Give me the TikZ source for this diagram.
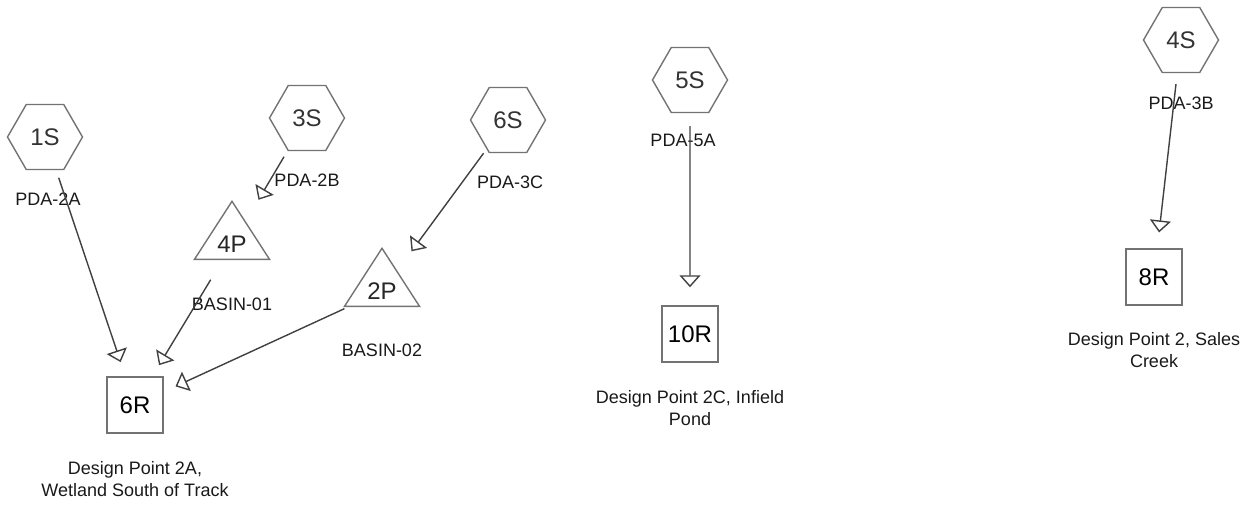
\documentclass[tikz,border=0pt]{standalone}
\usepackage{fontspec}
\setmainfont{Liberation Sans}
\usetikzlibrary{positioning,shapes.geometric,arrows.meta}
\tikzset{
  subcat/.style={
    draw=black!55,
    line width=1.4pt,
    regular polygon,
    regular polygon sides=6,
    minimum size=75pt,
    inner sep=0pt,
    text=black!80,
    font=\fontsize{24}{28}\selectfont
  },
  pond/.style={
    draw=black!55,
    line width=1.4pt,
    isosceles triangle,
    shape border rotate=90,
    isosceles triangle apex angle=66,
    isosceles triangle stretches,
    minimum width=75pt,
    minimum height=58pt,
    inner sep=0pt,
    text=black!85,
    font=\fontsize{24}{28}\selectfont
  },
  reach/.style={
    draw=black!55,
    line width=1.4pt,
    minimum size=56pt,
    inner sep=0pt,
    font=\fontsize{24}{28}\selectfont
  },
  lbl/.style={font=\fontsize{18}{21.5}\selectfont, inner sep=0pt, text=black!90},
  dpt/.style={lbl, align=center},
  flow/.style={draw=black!75, line width=1.4pt, -{Triangle[open, width=21pt, length=12pt]}},
}

\begin{document}
\begin{tikzpicture}[x=1pt, y=-1pt]
  \useasboundingbox (0,0) rectangle (1253,506);
  \node[subcat] (s1) at (45,137) {1S};
  \node[subcat] (s3) at (307,118) {3S};
  \node[subcat] (s6) at (508,120) {6S};
  \node[subcat] (s5) at (690,80) {5S};
  \node[subcat] (s4) at (1181,40) {4S};
  \node[pond, anchor=south] (p4) at (232,260) {4P};
  \node[pond, anchor=south] (p2) at (382,307) {2P};
  \node[reach] (r6) at (135,405) {6R};
  \node[reach] (r10) at (690,334) {10R};
  \node[reach] (r8) at (1154,277) {8R};

  \node[lbl, below=23pt of s1, xshift=3pt] (l1) {PDA-2A};
  \node[lbl, below=23pt of s3] (l3) {PDA-2B};
  \node[lbl, below=23pt of s6, xshift=2pt] (l6) {PDA-3C};
  \node[lbl, below=21pt of s5, xshift=-7pt] (l5) {PDA-5A};
  \node[lbl, below=24pt of s4] (l4) {PDA-3B};
  \node[lbl, below=38pt of p4] (b4) {BASIN-01};
  \node[lbl, below=37pt of p2] (b2) {BASIN-02};

  \node[dpt, below=28pt of r6] (d6) {Design Point 2A,\\Wetland South of Track};
  \node[dpt, below=28pt of r10] (d10) {Design Point 2C, Infield\\Pond};
  \node[dpt, below=27pt of r8] (d8) {Design Point 2, Sales\\Creek};

  \draw[flow, shorten <=8pt, shorten >=15pt] (s1) -- (r6);
  \draw[flow, shorten <=7pt, shorten >=25pt] (s3) -- (p4);
  \draw[flow, shorten <=23pt, shorten >=13pt] (p4) -- (r6);
  \draw[flow, shorten <=5pt, shorten >=24pt] (s6) -- (p2);
  \draw[flow, shorten <=4pt, shorten >=13pt] (p2) -- (r6);
  \draw[flow, shorten <=13pt, shorten >=18pt] (s5) -- (r10);
  \draw[flow, shorten <=11pt, shorten >=16pt] (s4) -- (r8);
\end{tikzpicture}
\end{document}
